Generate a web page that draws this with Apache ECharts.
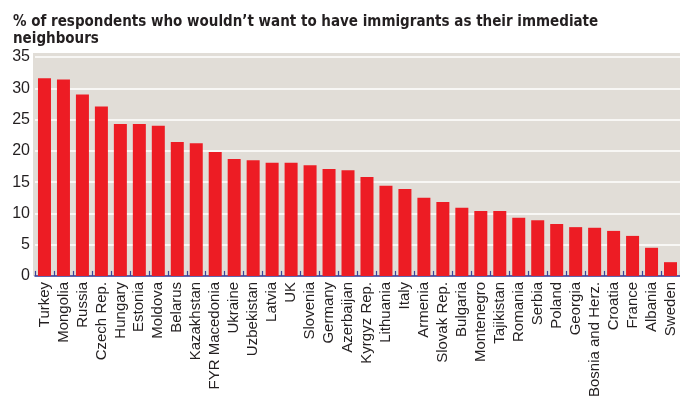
<!DOCTYPE html>
<html>
<head>
<meta charset="utf-8">
<script src="https://cdn.jsdelivr.net/npm/echarts@6/dist/echarts.min.js"></script>
<style>
  html, body { margin: 0; padding: 0; background: #ffffff; }
  #chart { width: 680px; height: 400px; }
</style>
</head>
<body>
<div id="chart"></div>
<script>
// Survey share refusing immigrant neighbours, by country (%)
const countries = [
  'Turkey', 'Mongolia', 'Russia', 'Czech Rep.', 'Hungary', 'Estonia', 'Moldova',
  'Belarus', 'Kazakhstan', 'FYR Macedonia', 'Ukraine', 'Uzbekistan', 'Latvia', 'UK',
  'Slovenia', 'Germany', 'Azerbaijan', 'Kyrgyz Rep.', 'Lithuania', 'Italy', 'Armenia',
  'Slovak Rep.', 'Bulgaria', 'Montenegro', 'Tajikistan', 'Romania', 'Serbia', 'Poland',
  'Georgia', 'Bosnia and Herz.', 'Croatia', 'France', 'Albania', 'Sweden'
];
const shares = [
  31.6, 31.4, 29.0, 27.1, 24.3, 24.3, 24.0,
  21.4, 21.2, 19.8, 18.7, 18.5, 18.1, 18.1,
  17.7, 17.1, 16.9, 15.8, 14.4, 13.9, 12.5,
  11.8, 10.9, 10.4, 10.4, 9.3, 8.9, 8.3,
  7.8, 7.7, 7.2, 6.4, 4.5, 2.2
];
const yTicks = [0, 5, 10, 15, 20, 25, 30, 35];

const titleText = '% of respondents who wouldn\u2019t want to have immigrants as their immediate\nneighbours';

const chart = echarts.init(document.getElementById('chart'), null, { renderer: 'canvas' });
chart.setOption({
  animation: false,
  title: {
    text: titleText,
    left: 8,
    top: 9,
    textStyle: {
      fontFamily: '"DejaVu Sans Condensed", "Liberation Sans", sans-serif',
      fontWeight: 'bold',
      fontSize: 15,
      lineHeight: 17,
      color: '#231f20'
    }
  },
  // warm grey plot panel
  graphic: [{
    type: 'rect',
    left: 33,
    top: 53,
    z: -10,
    silent: true,
    shape: { width: 647, height: 223 },
    style: { fill: '#e1ddd7' }
  }],
  grid: {
    left: 35,
    right: -4,
    top: 53,
    bottom: 124
  },
  xAxis: {
    type: 'category',
    data: countries,
    axisLine: { show: true, lineStyle: { color: '#2e3192', width: 1.5 } },
    axisTick: { show: true, inside: true, length: 5, alignWithLabel: false, lineStyle: { color: '#3a4499', width: 1.2 } },
    axisLabel: {
      rotate: 90,
      interval: 0,
      margin: 6,
      fontFamily: '"Liberation Sans", Arial, sans-serif',
      fontSize: 15,
      color: '#231f20'
    },
    splitLine: { show: false }
  },
  yAxis: {
    type: 'value',
    min: 0,
    max: 35.64,
    interval: 5,
    axisLine: { show: false },
    axisTick: { show: false },
    splitLine: { show: true, showMaxLine: false, showMinLine: false, lineStyle: { color: '#ffffff', width: 1.5 } },
    axisLabel: {
      margin: 5,
      showMaxLabel: false,
      fontFamily: '"Liberation Sans", Arial, sans-serif',
      fontSize: 16,
      color: '#231f20',
      formatter: function (v) { return yTicks.indexOf(v) >= 0 ? String(v) : ''; }
    }
  },
  series: [{
    type: 'bar',
    data: shares,
    barWidth: 13,
    itemStyle: { color: '#ed1c24' },
    z: 3
  }]
});
</script>
</body>
</html>
